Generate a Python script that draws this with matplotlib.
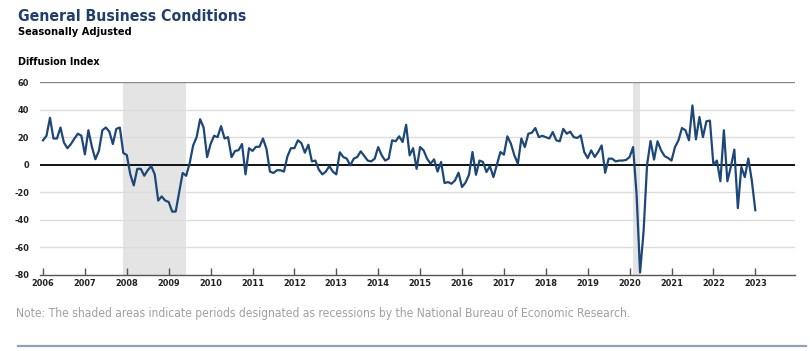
import matplotlib
matplotlib.use("Agg")
import matplotlib.pyplot as plt
import matplotlib.font_manager as fm
import numpy as np

# monthly index values, Jan 2006 - Jan 2023
v2006 = [17.7, 21, 34, 19, 19, 27, 16, 12, 15, 19, 22.5, 21]
v2007 = [7.5, 25, 13, 4, 10, 25, 27, 24, 15, 26, 27, 8.5]
v2008 = [7, -7, -15, -3, -3, -8, -4, -1, -7, -26, -23, -26]
v2009 = [-27, -34, -34, -20, -6, -8, 1, 14, 20, 33, 27, 5.5]
v2010 = [15, 21, 20, 28, 19, 20, 5.5, 10, 10.5, 15, -7, 12]
v2011 = [10, 13, 13, 19, 11.5, -5, -6, -4, -4, -5, 6, 12]
v2012 = [12, 17.7, 15.7, 8.7, 14.5, 2.4, 3, -3.6, -7, -5, -1, -5]
v2013 = [-7, 9, 5.6, 4.4, -0.5, 4.4, 5.6, 9.7, 6.3, 3, 2.4, 4.4]
v2014 = [12.8, 6.8, 3, 4.4, 17.7, 17, 20.6, 16.5, 29, 6.8, 12, -3]
v2015 = [12.8, 10.4, 4.4, 0.7, 3.9, -5, 2, -13.3, -12.6, -13.8, -11.4, -5.8]
v2016 = [-16.2, -13, -7.3, 9.2, -7.3, 3, 2, -5.3, -1, -9, 0, 9.2]
v2017 = [7.3, 20.6, 15.3, 6.8, 0.7, 19, 12.8, 22.5, 23.2, 26.6, 20, 21]
v2018 = [20, 19, 23.7, 17.7, 17, 26, 22.5, 24, 20, 19.4, 21.3, 9.2]
v2019 = [4.8, 10.4, 5.6, 9.2, 14, -5.8, 4.4, 4.4, 2.4, 3, 3, 3.5]
v2020 = [5.6, 12.8, -21.5, -78.2, -48.5, -0.2, 17.2, 3.7, 17, 10.5, 6.3, 4.9]
v2021 = [3, 12.8, 17.7, 26.6, 25, 17.7, 43, 18.4, 34.6, 20, 31.5, 32]
v2022 = [0, 3, -12, 25, -12, -1.5, 11, -31.5, -1.7, -9, 4.5, -11.5]
v2023 = [-33]

values = (v2006 + v2007 + v2008 + v2009 + v2010 + v2011 + v2012 + v2013 + v2014
          + v2015 + v2016 + v2017 + v2018 + v2019 + v2020 + v2021 + v2022 + v2023)
start_year = 2006
years = list(range(2006, 2024))
yticks = [60, 40, 20, 0, -20, -40, -60, -80]
# NBER recessions (start, end) in decimal years
recessions = [(2007 + 11 / 12, 2009 + 5 / 12), (2020 + 1 / 12, 2020 + 3 / 12)]


# look for a narrow / condensed sans face, else fall back to a plain sans
def pick_font(bold):
    narrow = []
    for f in fm.fontManager.ttflist:
        if "Mono" in f.name or "Serif" in f.name or f.style != "normal":
            continue
        if ("Narrow" in f.name or "Condensed" in f.name
                or f.stretch in ("condensed", "semi-condensed")):
            w = f.weight if isinstance(f.weight, int) else (700 if "bold" in str(f.weight) else 400)
            narrow.append((abs(w - (700 if bold else 400)), f.fname))
    if narrow:
        narrow.sort()
        return fm.FontProperties(fname=narrow[0][1])
    return fm.FontProperties(family="Liberation Sans", weight="bold" if bold else "normal")


fp_reg = pick_font(False)
fp_bold = pick_font(True)
grow = 1.12  # reference face is narrower than anything installed

W, H = 810, 351
fig = plt.figure(figsize=(W / 100, H / 100), dpi=100)
ax = fig.add_axes([40 / W, 1 - 275 / H, (795 - 40) / W, (275 - 82) / H])

x = start_year + np.arange(len(values)) / 12.0

for a, b in recessions:
    ax.axvspan(a, b, color="#e4e4e4", lw=0, zorder=0)

for t in yticks:
    if t == 0:
        ax.axhline(t, color="black", lw=1.3, zorder=2)
    elif t == 60:
        ax.axhline(t, color="#8a8a8a", lw=1.0, zorder=1)
    elif t != -80:
        ax.axhline(t, color="#dcdcdc", lw=1.0, zorder=1)

ax.plot(x, values, color="#1d4779", lw=1.6, zorder=3, solid_joinstyle="round")

ax.set_xlim(2006 - 3 / 41.9, 2006 + 752 / 41.9)
ax.set_ylim(-80, 60)
ax.set_yticks(yticks)
ax.set_yticklabels([str(t) for t in yticks])
ax.set_xticks(years)
ax.set_xticklabels([str(y) for y in years])

for s in ["top", "right", "left"]:
    ax.spines[s].set_visible(False)
ax.spines["bottom"].set_color("#555555")
ax.spines["bottom"].set_linewidth(1.0)
ax.tick_params(axis="y", length=0, pad=8)
ax.tick_params(axis="x", length=5, width=1, color="#555555", direction="in", pad=3)
for lab in ax.get_xticklabels() + ax.get_yticklabels():
    lab.set_fontproperties(fp_bold)
    lab.set_color("#222222")

title = fig.text(18 / W, 1 - 21 / H, "General Business Conditions",
                 fontproperties=fp_bold, color="#1f3f6e", va="baseline")
sub = fig.text(18 / W, 1 - 35 / H, "Seasonally Adjusted",
               fontproperties=fp_bold, color="black", va="baseline")
ylab = fig.text(18 / W, 1 - 65 / H, "Diffusion Index",
                fontproperties=fp_bold, color="black", va="baseline")
note = fig.text(16 / W, 1 - 317 / H,
                "Note: The shaded areas indicate periods designated as recessions by the "
                "National Bureau of Economic Research.",
                fontproperties=fp_reg, color="#a0a0a0", va="baseline")

# size each text so it spans about the same width as in the reference
renderer = fig.canvas.get_renderer()


def fit(txt, width_px, size0=10):
    txt.set_fontsize(size0)
    w = txt.get_window_extent(renderer).width
    txt.set_fontsize(size0 * width_px / w)


fit(title, 202 * grow)
fit(sub, 100 * grow)
fit(ylab, 73 * grow)
fit(note, 551 * grow)
xl = ax.get_xticklabels()
fit(xl[0], 23)
tick_size = xl[0].get_fontsize()
for lab in ax.get_xticklabels() + ax.get_yticklabels():
    lab.set_fontsize(tick_size)

fig.add_artist(plt.Line2D([18 / W, 806 / W], [1 - 346 / H, 1 - 346 / H],
                          transform=fig.transFigure, color="#8fa3b8", lw=1.6))

fig.savefig("out.png", dpi=100)
